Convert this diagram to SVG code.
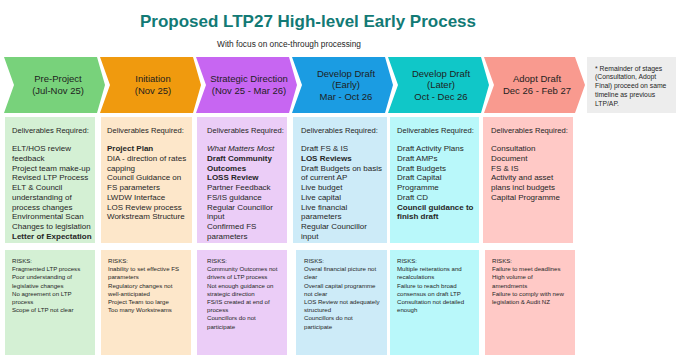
<svg xmlns="http://www.w3.org/2000/svg" width="681" height="360" viewBox="0 0 681 360">
<style>
text{font-family:"Liberation Sans",Arial,sans-serif;fill:#262626}
.title{font-size:17px;font-weight:bold;fill:#127A75}
.sub{font-size:8.3px}
.chev{font-size:9.5px;text-anchor:middle;fill:#1e1e1e}
.note{font-size:6.8px}
.dh{font-size:7.6px}
.d{font-size:8px}
.r{font-size:6.1px}
.b{font-weight:bold}
.i{font-style:italic}
</style>
<rect width="681" height="360" fill="#ffffff"/>
<text class="title" x="308" y="27" text-anchor="middle">Proposed LTP27 High-level Early Process</text>
<text class="sub" x="289" y="47" text-anchor="middle">With focus on once-through processing</text>

<g id="stage-preproject">
<polygon points="4,57 97,57 105,85 97,113 4,113 14,85" fill="#78D27B"/>
<text class="chev" x="58" y="82">Pre-Project</text>
<text class="chev" x="58" y="94.3">(Jul-Nov 25)</text>
<rect x="5" y="117" width="90" height="126" fill="#D4F0D4"/>
<text class="dh" x="12" y="133">Deliverables Required:</text>
<text class="d" x="12" y="151">ELT/HOS review<tspan x="12" dy="9.75">feedback</tspan><tspan x="12" dy="9.75">Project team make-up</tspan><tspan x="12" dy="9.75">Revised LTP Process</tspan><tspan x="12" dy="9.75">ELT &amp; Council</tspan><tspan x="12" dy="9.75">understanding of</tspan><tspan x="12" dy="9.75">process changes</tspan><tspan x="12" dy="9.75">Environmental Scan</tspan><tspan x="12" dy="9.75">Changes to legislation</tspan><tspan x="12" dy="9.75" class="b">Letter of Expectation</tspan></text>
<rect x="5" y="250" width="90" height="105" fill="#D4F0D4"/>
<text class="r" x="12" y="263">RISKS:<tspan x="12" dy="8.2">Fragmented LTP process</tspan><tspan x="12" dy="8.2">Poor understanding of</tspan><tspan x="12" dy="8.2">legislative changes</tspan><tspan x="12" dy="8.2">No agreement on LTP</tspan><tspan x="12" dy="8.2">process</tspan><tspan x="12" dy="8.2">Scope of LTP not clear</tspan></text>
</g>

<g id="stage-initiation">
<polygon points="100,57 193,57 201,85 193,113 100,113 110,85" fill="#F09A0E"/>
<text class="chev" x="153" y="82">Initiation</text>
<text class="chev" x="153" y="94.3">(Nov 25)</text>
<rect x="101" y="117" width="91" height="126" fill="#FDE7CA"/>
<text class="dh" x="107" y="133">Deliverables Required:</text>
<text class="d" x="107" y="151"><tspan class="b">Project Plan</tspan><tspan x="107" dy="9.75">DIA - direction of rates</tspan><tspan x="107" dy="9.75">capping</tspan><tspan x="107" dy="9.75">Council Guidance on</tspan><tspan x="107" dy="9.75">FS parameters</tspan><tspan x="107" dy="9.75">LWDW Interface</tspan><tspan x="107" dy="9.75">LOS Review process</tspan><tspan x="107" dy="9.75">Workstream Structure</tspan></text>
<rect x="101" y="250" width="90" height="105" fill="#FDE7CA"/>
<text class="r" x="108" y="263">RISKS:<tspan x="108" dy="8.2">Inability to set effective FS</tspan><tspan x="108" dy="8.2">parameters</tspan><tspan x="108" dy="8.2">Regulatory changes not</tspan><tspan x="108" dy="8.2">well-anticipated</tspan><tspan x="108" dy="8.2">Project Team too large</tspan><tspan x="108" dy="8.2">Too many Workstreams</tspan></text>
</g>

<g id="stage-strategic">
<polygon points="196,57 289,57 297,85 289,113 196,113 206,85" fill="#C766F2"/>
<text class="chev" x="249" y="82">Strategic Direction</text>
<text class="chev" x="249" y="94.3">(Nov 25 - Mar 26)</text>
<rect x="197" y="117" width="90" height="126" fill="#EBCDF7"/>
<text class="dh" x="207" y="133">Deliverables Required:</text>
<text class="d" x="207" y="151"><tspan class="i">What Matters Most</tspan><tspan x="207" dy="9.75" class="b">Draft Community</tspan><tspan x="207" dy="9.75" class="b">Outcomes</tspan><tspan x="207" dy="9.75" class="b">LOSS Review</tspan><tspan x="207" dy="9.75">Partner Feedback</tspan><tspan x="207" dy="9.75">FS/IS guidance</tspan><tspan x="207" dy="9.75">Regular Councillor</tspan><tspan x="207" dy="9.75">input</tspan><tspan x="207" dy="9.75">Confirmed FS</tspan><tspan x="207" dy="9.75">parameters</tspan></text>
<rect x="197" y="250" width="90" height="105" fill="#EBCDF7"/>
<text class="r" x="207" y="263">RISKS:<tspan x="207" dy="8.2">Community Outcomes not</tspan><tspan x="207" dy="8.2">drivers of LTP process</tspan><tspan x="207" dy="8.2">Not enough guidance on</tspan><tspan x="207" dy="8.2">strategic direction</tspan><tspan x="207" dy="8.2">FS/IS created at end of</tspan><tspan x="207" dy="8.2">process</tspan><tspan x="207" dy="8.2">Councillors do not</tspan><tspan x="207" dy="8.2">participate</tspan></text>
</g>

<g id="stage-draft-early">
<polygon points="292,57 385,57 393,85 385,113 292,113 302,85" fill="#1B9CE2"/>
<text class="chev" x="346" y="76.7">Develop Draft</text>
<text class="chev" x="346" y="88.3">(Early)</text>
<text class="chev" x="346" y="100">Mar - Oct 26</text>
<rect x="293" y="117" width="94" height="126" fill="#CDEBF8"/>
<text class="dh" x="301" y="133">Deliverables Required:</text>
<text class="d" x="301" y="151">Draft FS &amp; IS<tspan x="301" dy="9.75" class="b">LOS Reviews</tspan><tspan x="301" dy="9.75">Draft Budgets on basis</tspan><tspan x="301" dy="9.75">of current AP</tspan><tspan x="301" dy="9.75">Live budget</tspan><tspan x="301" dy="9.75">Live capital</tspan><tspan x="301" dy="9.75">Live financial</tspan><tspan x="301" dy="9.75">parameters</tspan><tspan x="301" dy="9.75">Regular Councillor</tspan><tspan x="301" dy="9.75">input</tspan></text>
<rect x="296" y="250" width="91" height="105" fill="#CDEBF8"/>
<text class="r" x="304" y="263">RISKS:<tspan x="304" dy="8.2">Overal financial picture not</tspan><tspan x="304" dy="8.2">clear</tspan><tspan x="304" dy="8.2">Overall capital programme</tspan><tspan x="304" dy="8.2">not clear</tspan><tspan x="304" dy="8.2">LOS Review not adequately</tspan><tspan x="304" dy="8.2">structured</tspan><tspan x="304" dy="8.2">Councillors do not</tspan><tspan x="304" dy="8.2">participate</tspan></text>
</g>

<g id="stage-draft-later">
<polygon points="388,57 481,57 489,85 481,113 388,113 398,85" fill="#10C7C8"/>
<text class="chev" x="441" y="76.7">Develop Draft</text>
<text class="chev" x="441" y="88.3">(Later)</text>
<text class="chev" x="441" y="100">Oct - Dec 26</text>
<rect x="390" y="117" width="89" height="126" fill="#B9F8FA"/>
<text class="dh" x="397" y="133">Deliverables Required:</text>
<text class="d" x="397" y="151">Draft Activity Plans<tspan x="397" dy="9.75">Draft AMPs</tspan><tspan x="397" dy="9.75">Draft Budgets</tspan><tspan x="397" dy="9.75">Draft Capital</tspan><tspan x="397" dy="9.75">Programme</tspan><tspan x="397" dy="9.75">Draft CD</tspan><tspan x="397" dy="9.75" class="b">Council guidance to</tspan><tspan x="397" dy="9.75" class="b">finish draft</tspan></text>
<rect x="390" y="250" width="89" height="105" fill="#B9F8FA"/>
<text class="r" x="397" y="263">RISKS:<tspan x="397" dy="8.2">Multiple reiterations and</tspan><tspan x="397" dy="8.2">recalculations</tspan><tspan x="397" dy="8.2">Failure to reach broad</tspan><tspan x="397" dy="8.2">consensus on draft LTP</tspan><tspan x="397" dy="8.2">Consultation not detailed</tspan><tspan x="397" dy="8.2">enough</tspan></text>
</g>

<g id="stage-adopt">
<polygon points="484,57 575,57 585,85 575,113 484,113 494,85" fill="#F99A8F"/>
<text class="chev" x="537" y="82">Adopt Draft</text>
<text class="chev" x="537" y="94.3">Dec 26 - Feb 27</text>
<rect x="483" y="117" width="90" height="126" fill="#FFC9C6"/>
<text class="dh" x="491" y="133">Deliverables Required:</text>
<text class="d" x="491" y="151">Consultation<tspan x="491" dy="9.75">Document</tspan><tspan x="491" dy="9.75">FS &amp; IS</tspan><tspan x="491" dy="9.75">Activity and asset</tspan><tspan x="491" dy="9.75">plans incl budgets</tspan><tspan x="491" dy="9.75">Capital Programme</tspan></text>
<rect x="485" y="250" width="90" height="105" fill="#FFC9C6"/>
<text class="r" x="492" y="263">RISKS:<tspan x="492" dy="8.2">Failure to meet deadlines</tspan><tspan x="492" dy="8.2">High volume of</tspan><tspan x="492" dy="8.2">amendments</tspan><tspan x="492" dy="8.2">Failure to comply with new</tspan><tspan x="492" dy="8.2">legislation &amp; Audit NZ</tspan></text>
</g>

<g id="note">
<rect x="587" y="57" width="89" height="56" fill="#EDEDED"/>
<text class="note" x="595" y="70.7">* Remainder of stages<tspan x="595" dy="8.75">(Consultation, Adopt</tspan><tspan x="595" dy="8.75">Final) proceed on same</tspan><tspan x="595" dy="8.75">timeline as previous</tspan><tspan x="595" dy="8.75">LTP/AP.</tspan></text>
</g>
<g id="connectors"></g>
</svg>
